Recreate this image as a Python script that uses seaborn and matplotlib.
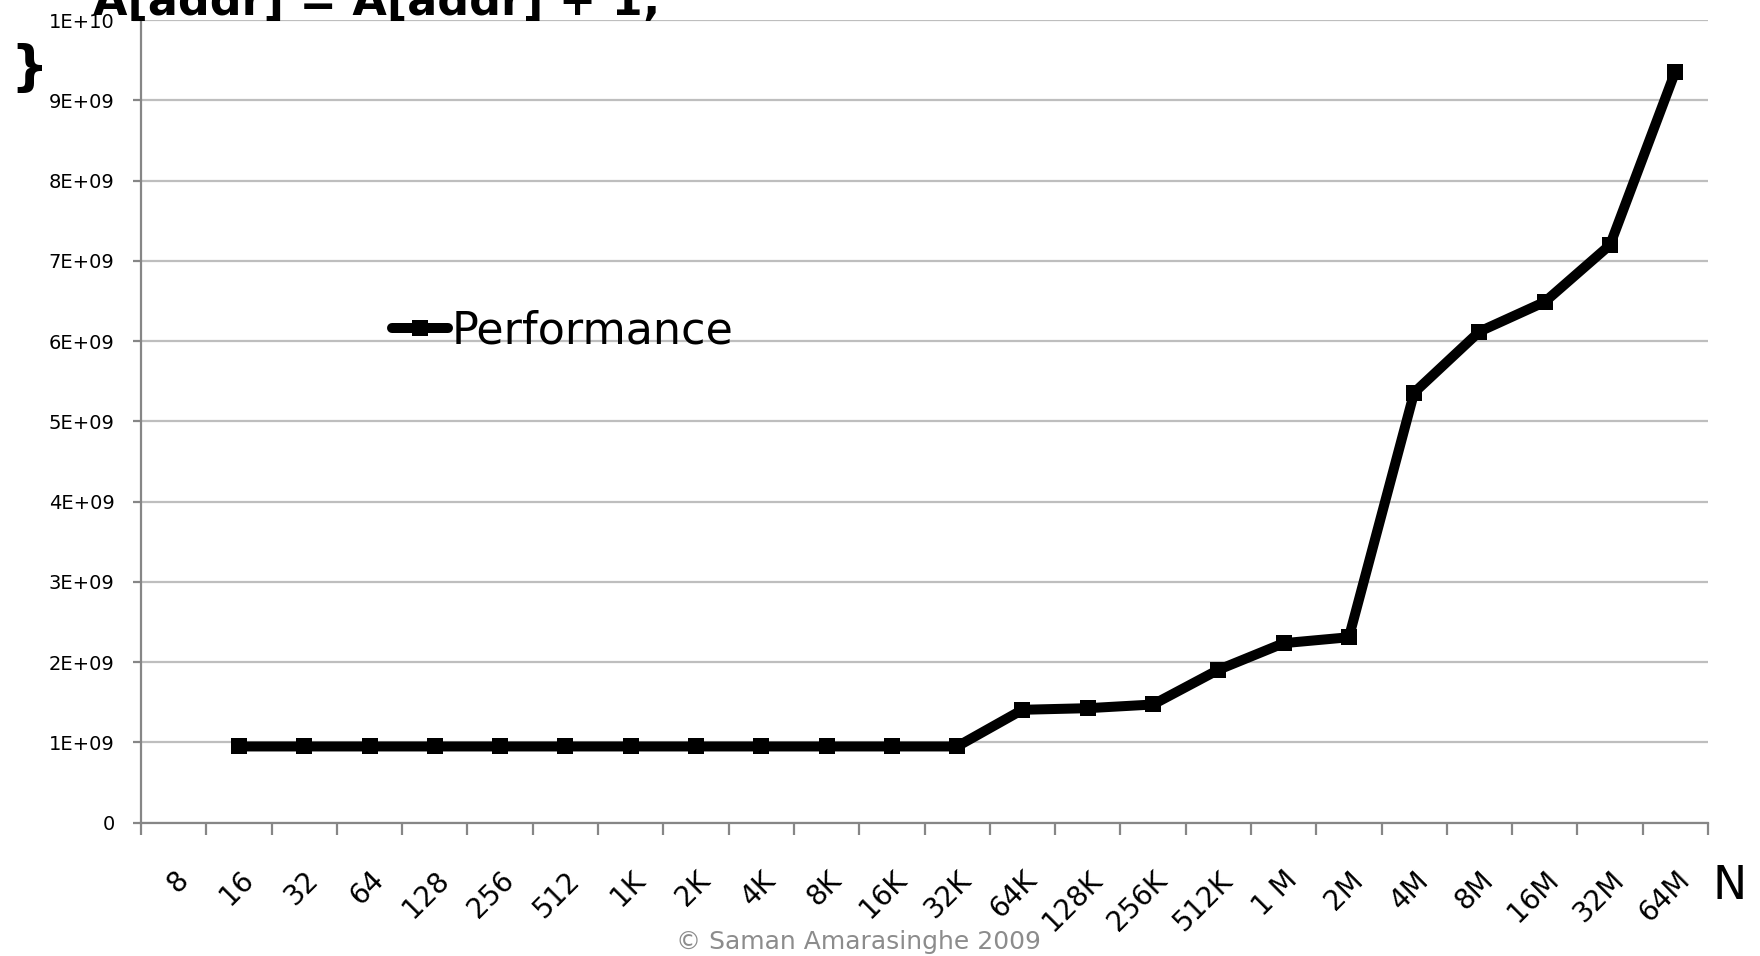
import matplotlib
matplotlib.use("Agg")
import matplotlib.pyplot as plt
import seaborn as sns
import numpy as np
import pandas as pd

# ---- data ----
sizes = ["8", "16", "32", "64", "128", "256", "512", "1K", "2K", "4K", "8K",
         "16K", "32K", "64K", "128K", "256K", "512K", "1 M", "2M", "4M", "8M",
         "16M", "32M", "64M"]
performance = [np.nan,
               0.95e9, 0.95e9, 0.95e9, 0.95e9, 0.95e9, 0.95e9,
               0.95e9, 0.95e9, 0.95e9, 0.95e9, 0.95e9, 0.95e9,
               1.407e9, 1.427e9, 1.473e9, 1.905e9, 2.237e9, 2.311e9,
               5.36e9, 6.12e9, 6.49e9, 7.20e9, 9.36e9]
y_ticks = [0, 1e9, 2e9, 3e9, 4e9, 5e9, 6e9, 7e9, 8e9, 9e9, 1e10]
y_tick_labels = ["0", "1E+09", "2E+09", "3E+09", "4E+09", "5E+09", "6E+09",
                 "7E+09", "8E+09", "9E+09", "1E+10"]
series_name = "Performance"
code_line = "A[addr] = A[addr] + 1;"
brace = "}"
x_name = "N"
credit = "\u00a9 Saman Amarasinghe 2009"

sns.set_theme(style="white")
plt.rcParams["font.family"] = ["DejaVu Sans"]
plt.rcParams["text.color"] = "black"
plt.rcParams["xtick.labelcolor"] = "black"
plt.rcParams["ytick.labelcolor"] = "black"

W, H = 1760, 956
fig = plt.figure(figsize=(W / 100, H / 100), dpi=100)
ax = fig.add_axes([141 / W, 1 - 822.7 / H, (1708 - 141) / W, (822.7 - 20.2) / H])

df = pd.DataFrame({"pos": np.arange(len(sizes)), "value": performance, "size": sizes})
sns.lineplot(data=df.dropna(), x="pos", y="value", ax=ax, color="black",
             linewidth=7.2, marker="s", markersize=11.5, markeredgewidth=0,
             solid_capstyle="round", solid_joinstyle="round",
             label=series_name, zorder=3)

ax.set_xlim(-0.5, len(sizes) - 0.5)
ax.set_ylim(0, 1e10)
ax.set_yticks(y_ticks)
ax.set_yticklabels(y_tick_labels)
ax.set_xticks(np.arange(-0.5, len(sizes), 1.0))
ax.set_xticklabels([])
ax.set_xticks(df["pos"], labels=sizes, minor=True)
ax.set_xlabel("")
ax.set_ylabel("")

ax.grid(False)
ax.yaxis.grid(True, color="#BEBEBE", linewidth=1.6)
ax.set_axisbelow(True)
for s in ["top", "right"]:
    ax.spines[s].set_visible(False)
for s in ["left", "bottom"]:
    ax.spines[s].set_color("#868686")
    ax.spines[s].set_linewidth(1.6)

ax.tick_params(axis="y", which="major", direction="out", length=6, width=1.6,
               color="#868686", left=True, pad=13, labelsize=14, labelcolor="black")
ax.tick_params(axis="x", which="major", direction="out", length=8.5, width=1.6,
               color="#868686", bottom=True)
ax.tick_params(axis="x", which="minor", length=0, pad=31, labelsize=20,
               labelcolor="black", bottom=True)
for lab in ax.get_xticklabels(minor=True):
    lab.set_rotation(45)
    lab.set_ha("right")
    lab.set_va("top")
    lab.set_rotation_mode("anchor")

leg = ax.legend(loc="center left", bbox_to_anchor=(392 / W, 1 - 331 / H),
                bbox_transform=fig.transFigure, frameon=False, borderpad=0,
                borderaxespad=0, handlelength=1.25, handletextpad=0.1,
                fontsize=32)
for t in leg.get_texts():
    t.set_color("black")

fig.text(93 / W, 1 - 15 / H, code_line, fontsize=32, fontweight="bold",
         ha="left", va="baseline", color="black")
fig.text(10 / W, 1 - 84 / H, brace, fontsize=38, fontweight="bold",
         ha="left", va="baseline", color="black")
fig.text(1712 / W, 1 - 899 / H, x_name, fontsize=33, ha="left", va="baseline",
         color="black")
fig.text(858 / W, 1 - 949 / H, credit, fontsize=18, color="#8C8C8C",
         ha="center", va="baseline")

fig.savefig("out.png", dpi=100)
